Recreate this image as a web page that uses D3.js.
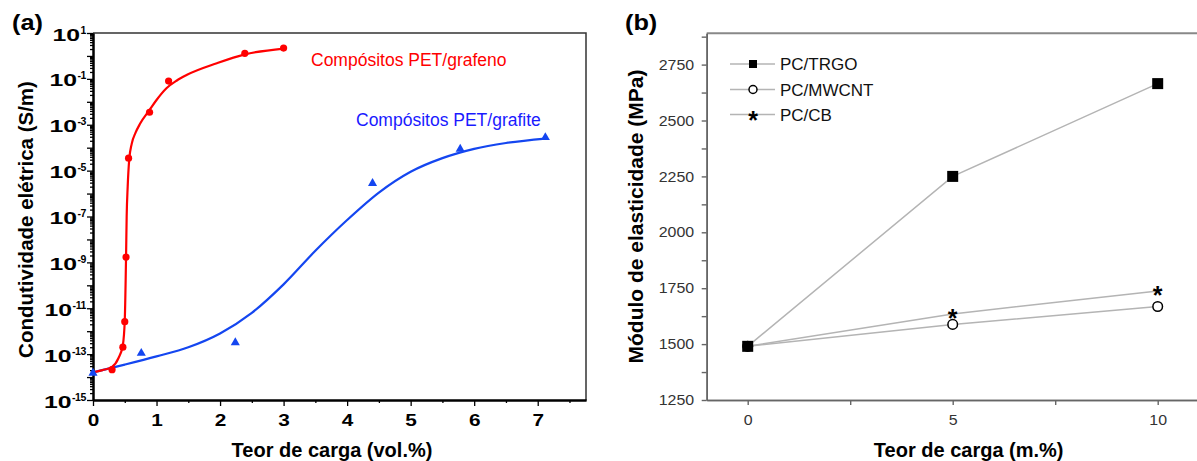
<!DOCTYPE html>
<html>
<head>
<meta charset="utf-8">
<script src="https://cdn.jsdelivr.net/npm/d3@7"></script>
<style>
body { margin: 0; background: #fff; }
svg { display: block; font-family: "Liberation Sans", Arial, sans-serif; }
</style>
</head>
<body>
<svg id="chart" width="1197" height="461"></svg>
<script>
/*
Panel (a) - electrical conductivity of PET composites
*/
var grafenoX = [0.30, 0.47, 0.50, 0.52, 0.56, 0.89, 1.19, 2.39, 3.00];
var grafenoY = [2.1e-14, 2e-13, 2.6e-12, 1.7e-9, 3.5e-5, 3.5e-3, 0.08, 1.3, 2.2];
// fitted curve
var grafenoFitX = [0, 0.15, 0.30, 0.40, 0.47, 0.50, 0.52, 0.53, 0.546, 0.57, 0.61, 0.67, 0.74, 0.89, 1.0, 1.16, 1.32, 1.48, 1.95, 2.39, 3.0];
var grafenoFitY = [1.6e-14, 2.0e-14, 2.8e-14, 6.6e-14, 2.5e-13, 3e-12, 1.5e-9, 1e-7, 2e-6, 3e-5, 1.5e-4, 4.5e-4, 1.1e-3, 4.4e-3, 1.2e-2, 4e-2, 0.085, 0.15, 0.48, 1.17, 2.1];

var grafiteX = [0, 0.76, 2.24, 4.40, 5.78, 7.12];
var grafiteY = [1.5e-14, 1.1e-13, 3.2e-13, 2.8e-6, 8.7e-5, 2.8e-4];
var grafiteFitX = [0, 0.5, 1.0, 1.5, 2.0, 2.5, 3.0, 3.5, 4.0, 4.5, 5.0, 5.5, 6.0, 6.5, 7.12];
var grafiteFitY = [1.6e-14, 3.5e-14, 8e-14, 2e-13, 8e-13, 6.3e-12, 1.1e-10, 3.2e-9, 7e-8, 1.1e-6, 8.9e-6, 3.5e-5, 8.9e-5, 1.6e-4, 2.5e-4];

var aXTicks = [0, 1, 2, 3, 4, 5, 6, 7];
var aXMinor = [0.5, 1.5, 2.5, 3.5, 4.5, 5.5, 6.5, 7.5];
var aYLabelExps = [1, -1, -3, -5, -7, -9, -11, -13, -15];

/*
Panel (b) - elastic modulus of PC composites
*/
var loadX = [0, 5, 10];
var trgo = [1490, 2250, 2665];
var mwcnt = [1490, 1588, 1668];
var cb = [1490, 1635, 1738];
var seriesNames = ["PC/TRGO", "PC/MWCNT", "PC/CB"];

var bYTicks = [1250, 1500, 1750, 2000, 2250, 2500, 2750];
var bYMinor = [1375, 1625, 1875, 2125, 2375, 2625, 2875];
var bXTicks = [0, 5, 10];
var bXMinor = [2.5, 7.5];

var svg = d3.select("#chart");

/* stretch a text horizontally around its anchor (the source picture is wide) */
function stretchText(sel, sx) {
    sel.each(function () {
        var t = d3.select(this);
        var x = +t.attr("x") || 0, y = +t.attr("y") || 0;
        t.attr("transform", "translate(" + x + "," + y + ") scale(" + sx + ",1)")
            .attr("x", 0).attr("y", 0);
    });
}

/* ---------------- Panel (a) ---------------- */
var xa = d3.scaleLinear().domain([0, 7.76]).range([93, 586]);
var ya = d3.scaleLog().domain([1e-15, 10]).range([400, 33]);

// top and right frame
svg.append("path")
    .attr("d", "M" + xa.range()[0] + "," + ya.range()[1] + "H" + xa.range()[1] + "V" + ya.range()[0])
    .attr("fill", "none")
    .attr("stroke", "#333")
    .attr("stroke-width", 1.5);

// log minor + major ticks
var aYMinor = [], aYMajor = [];
for (var e = -15; e <= 1; e++) {
    aYMajor.push(Math.pow(10, e));
    if (e < 1) for (var k = 2; k < 10; k++) aYMinor.push(k * Math.pow(10, e));
}

var gAy = svg.append("g").attr("transform", "translate(" + xa.range()[0] + ",0)");
gAy.append("g").call(d3.axisLeft(ya).tickValues(aYMinor).tickSize(3).tickSizeOuter(0).tickFormat(""));
gAy.append("g").call(d3.axisLeft(ya).tickValues(aYMajor).tickSize(6).tickSizeOuter(0).tickFormat(""));
gAy.selectAll(".domain").attr("stroke", "#000").attr("stroke-width", 2);
gAy.selectAll(".tick line").attr("stroke", "#000").attr("stroke-width", 1.3);

// 10^n labels
aYLabelExps.forEach(function (ex) {
    var yy = ya(Math.pow(10, ex));
    var sup = svg.append("text")
        .attr("x", 86).attr("y", yy + 0.5)
        .attr("text-anchor", "end")
        .attr("font-size", 10.5).attr("font-weight", "bold")
        .attr("letter-spacing", -0.4)
        .text(ex < 0 ? "-" + (-ex) : "" + ex);
    var w = sup.node().getComputedTextLength();
    var base = svg.append("text")
        .attr("x", 86 - w - 0.5).attr("y", yy + 7.5)
        .attr("text-anchor", "end")
        .attr("font-size", 16).attr("font-weight", "bold")
        .text("10");
    stretchText(base, 1.55);
});

var gAx = svg.append("g").attr("transform", "translate(0," + ya.range()[0] + ")");
gAx.append("g").call(d3.axisBottom(xa).tickValues(aXMinor).tickSize(3).tickSizeOuter(0).tickFormat(""));
gAx.append("g").call(d3.axisBottom(xa).tickValues(aXTicks).tickSize(6).tickPadding(9).tickSizeOuter(0).tickFormat(d3.format("d")));
gAx.selectAll(".domain").attr("stroke", "#000").attr("stroke-width", 2);
gAx.selectAll(".tick line").attr("stroke", "#000").attr("stroke-width", 1.3);
gAx.selectAll(".tick text")
    .attr("font-size", 16).attr("font-weight", "bold").attr("fill", "#000")
    .attr("font-family", "Liberation Sans, Arial, sans-serif")
    .call(stretchText, 1.3);

// fitted curves
var lineA = d3.line()
    .x(function (d) { return xa(d[0]); })
    .y(function (d) { return ya(d[1]); })
    .curve(d3.curveMonotoneX);

svg.append("path")
    .attr("d", lineA(d3.zip(grafiteFitX, grafiteFitY)))
    .attr("fill", "none").attr("stroke", "#1446f0").attr("stroke-width", 2.2);
svg.append("path")
    .attr("d", lineA(d3.zip(grafenoFitX, grafenoFitY)))
    .attr("fill", "none").attr("stroke", "#ff0000").attr("stroke-width", 2.2);

// markers
svg.selectAll(".tri")
    .data(d3.zip(grafiteX, grafiteY))
    .enter().append("path")
    .attr("class", "tri")
    .attr("d", d3.symbol().type(d3.symbolTriangle).size(36))
    .attr("transform", function (d) { return "translate(" + xa(d[0]) + "," + ya(d[1]) + ")"; })
    .attr("fill", "#1446f0");

svg.selectAll(".dot")
    .data(d3.zip(grafenoX, grafenoY))
    .enter().append("circle")
    .attr("class", "dot")
    .attr("cx", function (d) { return xa(d[0]); })
    .attr("cy", function (d) { return ya(d[1]); })
    .attr("r", 3.6)
    .attr("fill", "#ff0000");

// series labels
svg.append("text").attr("x", 311).attr("y", 66)
    .attr("font-size", 17.5).attr("fill", "#ff0000")
    .text("Compósitos PET/grafeno");
svg.append("text").attr("x", 356).attr("y", 126)
    .attr("font-size", 17.5).attr("fill", "#1a1aff")
    .text("Compósitos PET/grafite");

// axis titles
svg.append("text")
    .attr("x", 332).attr("y", 457)
    .attr("text-anchor", "middle")
    .attr("font-size", 20).attr("font-weight", "bold")
    .text("Teor de carga (vol.%)");
svg.append("text")
    .attr("transform", "translate(32.5,219.5) rotate(-90)")
    .attr("text-anchor", "middle")
    .attr("font-size", 20.5).attr("font-weight", "bold")
    .text("Condutividade elétrica (S/m)");

svg.append("text").attr("x", 12).attr("y", 29.5)
    .attr("font-size", 22).attr("font-weight", "bold")
    .text("(a)")
    .call(stretchText, 1.15);

/* ---------------- Panel (b) ---------------- */
var xb = d3.scaleLinear().domain([-1, 11]).range([706.7, 1198.7]);
var yb = d3.scaleLinear().domain([1250, 2890]).range([400, 33.3]);

// top frame
svg.append("line")
    .attr("x1", xb.range()[0]).attr("x2", xb.range()[1])
    .attr("y1", yb.range()[1]).attr("y2", yb.range()[1])
    .attr("stroke", "#888").attr("stroke-width", 2);

var gBy = svg.append("g").attr("transform", "translate(" + xb.range()[0] + ",0)");
gBy.append("g").call(d3.axisLeft(yb).tickValues(bYMinor).tickSize(5).tickSizeOuter(0).tickFormat(""));
gBy.append("g").call(d3.axisLeft(yb).tickValues(bYTicks).tickSize(5).tickPadding(7.5).tickSizeOuter(0).tickFormat(d3.format("d")));

var gBx = svg.append("g").attr("transform", "translate(0," + yb.range()[0] + ")");
gBx.append("g").call(d3.axisBottom(xb).tickValues(bXMinor).tickSize(5).tickSizeOuter(0).tickFormat(""));
gBx.append("g").call(d3.axisBottom(xb).tickValues(bXTicks).tickSize(5).tickPadding(9.5).tickSizeOuter(0).tickFormat(d3.format("d")));

[gBy, gBx].forEach(function (g) {
    g.selectAll(".domain").attr("stroke", "#666").attr("stroke-width", 1.6);
    g.selectAll(".tick line").attr("stroke", "#666").attr("stroke-width", 1.4);
    g.selectAll(".tick text")
        .attr("font-size", 14.5).attr("fill", "#333")
        .attr("font-family", "Liberation Sans, Arial, sans-serif");
});
gBy.selectAll(".tick text").call(stretchText, 1.1);
gBx.selectAll(".tick text").call(stretchText, 1.1);

var lineB = d3.line()
    .x(function (d) { return xb(d[0]); })
    .y(function (d) { return yb(d[1]); });

var seriesB = [cb, mwcnt, trgo];
seriesB.forEach(function (vals) {
    svg.append("path")
        .attr("d", lineB(d3.zip(loadX, vals)))
        .attr("fill", "none").attr("stroke", "#b4b4b4").attr("stroke-width", 1.5);
});

/* marker drawers for panel (b) */
function drawSquare(g, cx, cy, s) {
    g.append("rect")
        .attr("x", cx - s / 2).attr("y", cy - s / 2)
        .attr("width", s).attr("height", s)
        .attr("fill", "#000");
}
function drawCircle(g, cx, cy, r) {
    g.append("circle")
        .attr("cx", cx).attr("cy", cy).attr("r", r)
        .attr("fill", "#fff").attr("stroke", "#000").attr("stroke-width", 1.5);
}
function drawStar(g, cx, cy, fs) {
    g.append("text")
        .attr("x", cx).attr("y", cy + fs * 0.56)
        .attr("text-anchor", "middle")
        .attr("font-size", fs).attr("font-weight", "bold")
        .text("*");
}

var mk = svg.append("g");
loadX.forEach(function (xv, i) {
    drawStar(mk, xb(xv), yb(cb[i]) - 1, 25);
});
loadX.forEach(function (xv, i) {
    drawCircle(mk, xb(xv), yb(mwcnt[i]), 4.8);
});
loadX.forEach(function (xv, i) {
    drawSquare(mk, xb(xv), yb(trgo[i]), 11);
});

// legend
var legend = svg.append("g");
var legendRows = [64, 89.5, 114.5];
seriesNames.forEach(function (name, i) {
    var yy = legendRows[i];
    legend.append("line")
        .attr("x1", 730).attr("x2", 775).attr("y1", yy).attr("y2", yy)
        .attr("stroke", "#b4b4b4").attr("stroke-width", 1.5);
    if (i === 0) drawSquare(legend, 753, yy, 8);
    if (i === 1) drawCircle(legend, 753, yy, 4);
    if (i === 2) drawStar(legend, 753, yy, 25);
    legend.append("text")
        .attr("x", 780).attr("y", yy + 6)
        .attr("font-size", 17).attr("fill", "#111")
        .text(name);
});

// axis titles
svg.append("text")
    .attr("x", 968.7).attr("y", 457)
    .attr("text-anchor", "middle")
    .attr("font-size", 20).attr("font-weight", "bold")
    .text("Teor de carga (m.%)");
svg.append("text")
    .attr("transform", "translate(643,216.5) rotate(-90)")
    .attr("text-anchor", "middle")
    .attr("font-size", 21).attr("font-weight", "bold")
    .text("Módulo de elasticidade (MPa)");

svg.append("text").attr("x", 625).attr("y", 29.5)
    .attr("font-size", 22).attr("font-weight", "bold")
    .text("(b)")
    .call(stretchText, 1.15);
</script>
</body>
</html>
